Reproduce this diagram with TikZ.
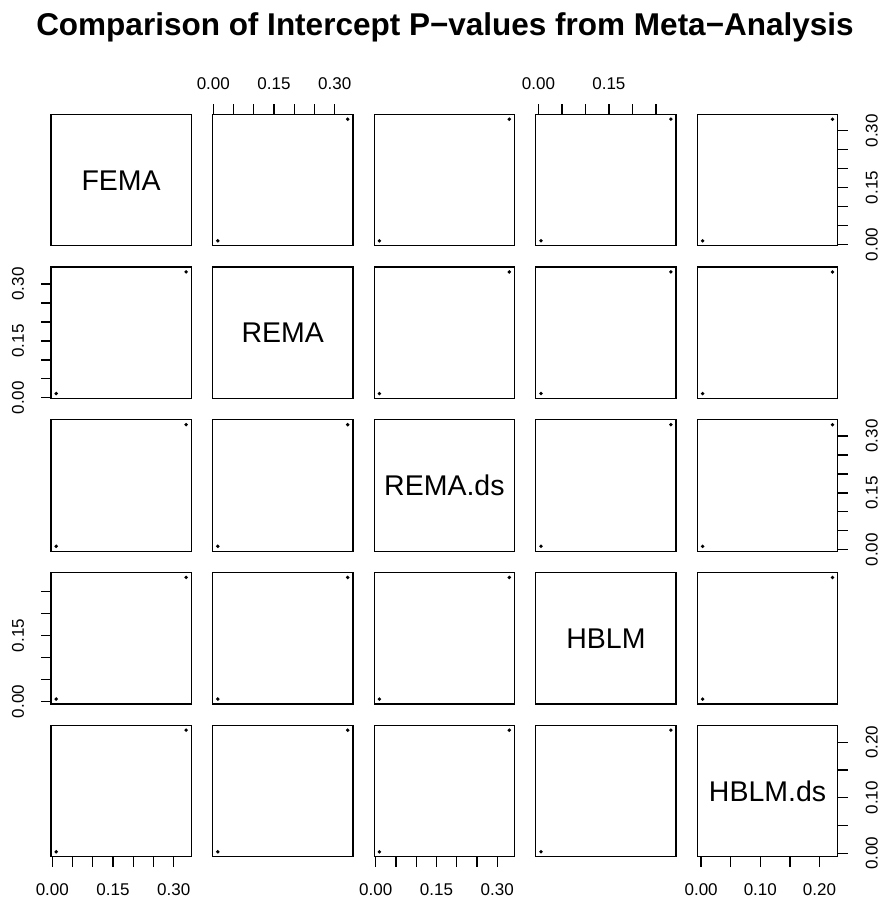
\documentclass[tikz,border=0pt]{standalone}
\usepackage{fontspec}
\setmainfont{Liberation Sans}
\newcommand\hax[8]{% #1 node, #2 corner, #3 min, #4 max, #5 last tick index, #6 dir (+1 up, -1 down), #7 labels, #8 label distance
  \pgfmathsetmacro\axrg{#4-#3}%
  \pgfmathsetmacro\axsc{140.3/(1.08*\axrg)}%
  \pgfmathsetmacro\axoff{(0.04*\axrg-#3)*\axsc}%
  \foreach \k in {0,...,#5} {\draw[tickline] ([xshift={\axoff+0.05*\k*\axsc}]#1.#2) -- ++(0,{-10*#6});}%
  \foreach \v/\lab in {#7} {\node[ticklab] at ([xshift={\axoff+\v*\axsc}, yshift={#6*#8}]#1.#2) {\lab};}%
}
\newcommand\vax[8]{% #1 node, #2 corner, #3 min, #4 max, #5 last tick index, #6 dir (+1 right, -1 left), #7 labels, #8 label distance
  \pgfmathsetmacro\axrg{#4-#3}%
  \pgfmathsetmacro\axsc{131.4/(1.08*\axrg)}%
  \pgfmathsetmacro\axoff{(0.04*\axrg-#3)*\axsc}%
  \foreach \k in {0,...,#5} {\draw[tickline] ([yshift={\axoff+0.05*\k*\axsc}]#1.#2) -- ++({10*#6},0);}%
  \foreach \v/\lab in {#7} {\node[ticklab, rotate=90] at ([yshift={\axoff+\v*\axsc}, xshift={#6*#8}]#1.#2) {\lab};}%
}
\begin{document}
\begin{tikzpicture}[x=1pt,y=-1pt,
  panel/.style={draw, line width=1.25pt, minimum width=140.3pt, minimum height=131.4pt, inner sep=0pt, outer sep=0pt, anchor=north west},
  tickline/.style={line width=1.25pt},
  ticklab/.style={font=\fontsize{17}{17}\selectfont, inner sep=0pt},
  diaglab/.style={font=\fontsize{28.5}{28.5}\selectfont, inner sep=0pt, anchor=base},
  titlestyle/.style={font=\bfseries\fontsize{31.5}{31.5}\selectfont, inner sep=0pt, anchor=base}]
\fill[white] (0,0) rectangle (880,902);
\useasboundingbox (0,0) rectangle (880,902);
\node[titlestyle] (title) at (445,35) {Comparison of Intercept P−values from Meta−Analysis};
\foreach \r in {1,...,5} {
  \foreach \c in {1,...,5} {
    \pgfmathsetmacro\L{51+161.6*(\c-1)}
    \pgfmathsetmacro\T{114.3+152.75*(\r-1)}
    \node[panel] (p\r\c) at (\L,\T) {};
    \ifnum\r=\c\else
      \fill (p\r\c.south west) ++(5.2,-4.87) circle[radius=1.9pt];
      \fill (p\r\c.north east) ++(-5.2,4.87) circle[radius=1.9pt];
    \fi
  }
}
\node[diaglab] (l1) at ([yshift=-10.2pt]p11.center) {FEMA};
\node[diaglab] (l2) at ([yshift=-10.2pt]p22.center) {REMA};
\node[diaglab] (l3) at ([yshift=-10.2pt]p33.center) {REMA.ds};
\node[diaglab] (l4) at ([yshift=-10.2pt]p44.center) {HBLM};
\node[diaglab] (l5) at ([yshift=-10.2pt]p55.center) {HBLM.ds};
% top axes
\hax{p12}{north west}{0.0111}{0.332}{6}{1}{0/0.00,0.15/0.15,0.30/0.30}{31}
\hax{p14}{north west}{0.0055}{0.282}{5}{1}{0/0.00,0.15/0.15}{31}
% bottom axes
\hax{p51}{south west}{0.0096}{0.3306}{6}{-1}{0/0.00,0.15/0.15,0.30/0.30}{33}
\hax{p53}{south west}{0.0091}{0.330}{6}{-1}{0/0.00,0.15/0.15,0.30/0.30}{33}
\hax{p55}{south west}{0.0025}{0.222}{4}{-1}{0/0.00,0.10/0.10,0.20/0.20}{33}
% left axes
\vax{p21}{south west}{0.0111}{0.332}{6}{-1}{0/0.00,0.15/0.15,0.30/0.30}{33}
\vax{p41}{south west}{0.0055}{0.282}{5}{-1}{0/0.00,0.15/0.15}{33}
% right axes
\vax{p15}{south east}{0.0096}{0.3306}{6}{1}{0/0.00,0.15/0.15,0.30/0.30}{34}
\vax{p35}{south east}{0.0091}{0.330}{6}{1}{0/0.00,0.15/0.15,0.30/0.30}{34}
\vax{p55}{south east}{0.0025}{0.222}{4}{1}{0/0.00,0.10/0.10,0.20/0.20}{34}
\end{tikzpicture}
\end{document}
